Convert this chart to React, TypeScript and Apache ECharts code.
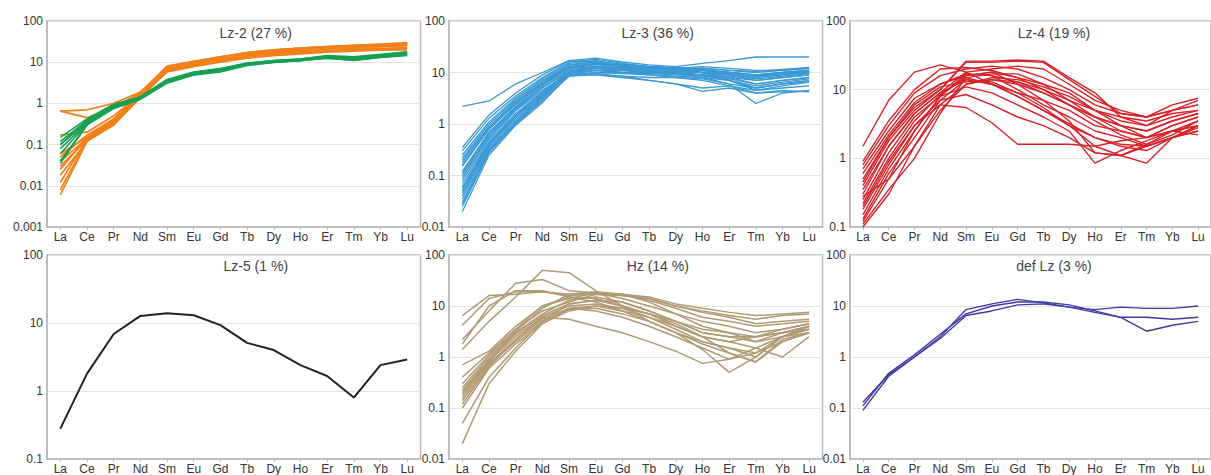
import React, { useEffect, useRef } from "react";
import * as echarts from "echarts";

// Chondrite-normalised REE patterns, one panel per cluster
const ELEMENTS = ["La", "Ce", "Pr", "Nd", "Sm", "Eu", "Gd", "Tb", "Dy", "Ho", "Er", "Tm", "Yb", "Lu"];

const PANEL_TITLES = ["Lz-2 (27 %)", "Lz-3 (36 %)", "Lz-4 (19 %)", "Lz-5 (1 %)", "Hz (14 %)", "def Lz (3 %)"];
const Y_MIN = [0.001, 0.01, 0.1, 0.1, 0.01, 0.01];
const Y_MAX = 100;

const LZ2_ORANGE = [
  [0.65, 0.7, 1.0, 1.9, 7.5, 9.5, 12, 15, 18, 20, 22, 23, 25, 27],
  [0.65, 0.45, 0.8, 1.8, 7, 9, 12, 15, 17, 19, 21, 22, 24, 26],
  [0.17, 0.2, 0.5, 1.7, 7.8, 10.5, 13.5, 17, 20, 22, 24, 25.5, 27, 29],
  [0.06, 0.15, 0.4, 1.6, 7, 9.5, 12.5, 16, 18, 20, 22, 23, 25, 27],
  [0.04, 0.14, 0.35, 1.5, 6.2, 8.3, 10.8, 13.5, 15.5, 17, 18.5, 19.5, 20.5, 21.5],
  [0.03, 0.13, 0.3, 1.4, 5.8, 7.8, 10, 12.5, 14.5, 16, 17.5, 18.5, 19.5, 20],
  [0.025, 0.15, 0.38, 1.7, 7.2, 9.8, 12.8, 16.5, 19, 21, 23, 24, 26, 29],
  [0.018, 0.12, 0.32, 1.5, 6.5, 8.6, 11, 14, 16, 17.5, 19, 20.5, 21.5, 23],
  [0.012, 0.14, 0.36, 1.6, 7, 9.2, 12, 15.5, 18, 20, 22, 23, 24.5, 26],
  [0.008, 0.13, 0.33, 1.5, 6.6, 8.8, 11.8, 15, 17.5, 19.5, 21.5, 22.5, 24, 25.5],
  [0.006, 0.12, 0.3, 1.4, 6.2, 8.3, 10.8, 13.8, 16, 17.5, 19, 20, 21, 22],
  [0.05, 0.17, 0.42, 1.8, 8, 10.5, 13.5, 17, 20, 22, 24, 25.5, 27.5, 29.5],
];

const LZ2_GREEN = [
  [0.15, 0.42, 0.95, 1.45, 3.8, 5.8, 7, 9.5, 11, 12, 14, 13, 15, 17],
  [0.12, 0.38, 0.9, 1.4, 3.5, 5.5, 6.5, 9, 10.5, 11.5, 13.5, 12, 14, 16],
  [0.1, 0.35, 0.85, 1.35, 3.3, 5.2, 6.2, 8.7, 10, 11, 13, 11.5, 13.5, 15],
  [0.08, 0.33, 0.8, 1.3, 3.2, 5, 6, 8.5, 10, 11, 12.5, 11, 13, 14.5],
  [0.06, 0.32, 0.78, 1.3, 3.4, 5.3, 6.4, 9, 10.5, 11.5, 13, 12.5, 14.5, 16],
  [0.04, 0.3, 0.75, 1.25, 3.1, 4.9, 5.8, 8.3, 9.8, 10.8, 12.5, 11.2, 13.2, 15],
  [0.035, 0.3, 0.8, 1.35, 3.6, 5.6, 6.8, 9.2, 10.8, 11.8, 14, 13, 15, 17.5],
  [0.1, 0.4, 0.92, 1.4, 3.7, 5.7, 6.9, 9.4, 11, 12, 14.5, 13.5, 15.5, 18],
];

const LZ3 = [
  [2.2, 2.8, 6, 10, 17, 16, 13, 12, 11, 10, 9, 8, 9, 10],
  [0.35, 1.5, 4, 9, 17, 19, 16, 14, 13, 15, 17, 20, 20, 20],
  [0.3, 1.3, 3.5, 8, 16, 18, 15, 13, 12, 13, 12, 11, 11, 12],
  [0.25, 1.1, 3.2, 7.5, 15, 17, 14, 13, 12, 11, 9, 7, 8, 9],
  [0.22, 1.0, 3, 7, 14, 16, 14, 12.5, 11, 10, 7, 5, 6, 7],
  [0.2, 0.9, 2.8, 6.5, 13, 15, 13, 12, 11, 10, 8, 6, 7, 8],
  [0.18, 0.85, 2.6, 6, 12, 14, 13, 12, 11, 11, 10, 9, 10, 11],
  [0.15, 0.8, 2.4, 6, 13, 15, 14, 13, 12, 12, 11, 10, 11, 12],
  [0.12, 0.7, 2.2, 5.5, 12, 13, 12, 11, 10, 9, 7, 4.5, 5.5, 6.5],
  [0.1, 0.6, 2, 5, 11, 12, 11, 10, 9.5, 8, 6, 2.5, 4, 4.5],
  [0.09, 0.55, 1.9, 5, 11, 13, 12, 11, 10, 9, 7, 5, 6, 7],
  [0.08, 0.5, 1.8, 4.5, 10, 11, 10, 9, 8, 7, 5.5, 4, 4.5, 4.2],
  [0.07, 0.45, 1.6, 4.2, 10, 12, 11.5, 11, 10.5, 10, 9, 8, 9, 10],
  [0.06, 0.42, 1.5, 4, 9, 9.5, 8.5, 7, 6, 5, 5.5, 4.5, 5, 5.5],
  [0.05, 0.4, 1.4, 3.8, 9, 9, 8, 7, 6, 4.3, 5, 4, 4.2, 4.3],
  [0.045, 0.38, 1.3, 3.6, 9.5, 11, 10, 9.5, 9, 8.5, 7.5, 6, 7, 8],
  [0.04, 0.35, 1.2, 3.5, 10, 12, 11, 10, 9.5, 9, 8, 7, 8, 9],
  [0.035, 0.32, 1.1, 3.2, 9, 10, 9.5, 9, 8.5, 8, 7, 5.5, 6.5, 7.5],
  [0.03, 0.3, 1.05, 3, 8.5, 9, 8.5, 8, 8, 7.5, 6, 5, 6, 6.5],
  [0.025, 0.28, 1.0, 2.8, 8.5, 10, 10, 10, 9.5, 9, 8.5, 7.5, 8.5, 9.5],
  [0.02, 0.25, 0.95, 2.6, 9, 11, 11, 10.5, 10, 10, 9.5, 8.5, 9.5, 10.5],
  [0.028, 0.3, 1.1, 3.3, 10, 12.5, 12, 11.5, 11, 11, 10, 9, 10, 11],
  [0.16, 0.8, 2.5, 6.5, 14, 16, 14.5, 13, 12.5, 12, 11, 10.5, 11.5, 12.5],
  [0.11, 0.65, 2.1, 5.5, 12.5, 14.5, 13.5, 12.5, 12, 11.5, 10, 8.5, 9.5, 10.5],
  [0.055, 0.42, 1.5, 4, 11, 13, 12.5, 12, 11.5, 11, 10, 9, 10, 11],
];

const LZ4 = [
  [1.5, 7, 18, 23, 18, 12, 8, 5, 3.2, 2, 1.6, 1.5, 2, 2.5],
  [0.9, 3.5, 10, 20, 21, 19, 15, 10, 7, 5, 4, 3.5, 4.5, 5],
  [0.8, 3, 9, 16, 20, 22, 20, 15, 10, 6, 4.5, 4, 5, 6],
  [0.7, 2.5, 7.5, 12, 16, 18, 15, 12, 9, 5, 3, 2.5, 3.5, 4.5],
  [0.5, 2, 6, 11, 13, 14, 12, 9, 6, 4, 3, 2, 2.5, 3],
  [0.45, 2, 5.5, 10, 26, 26, 27, 26, 15, 9, 4, 3, 5, 7],
  [0.4, 1.8, 5, 10, 25, 25, 26, 25, 14, 8, 4.5, 4, 6, 7.5],
  [0.35, 1.5, 4.5, 9, 18, 20, 22, 20, 12, 7, 5, 4, 5, 6],
  [0.3, 1.5, 4.5, 9, 14, 12, 9, 7, 5, 3, 2.5, 2, 3, 4],
  [0.25, 1.2, 4, 8, 11, 9, 6, 4, 2.5, 0.85, 1.3, 1.8, 2.5, 3],
  [0.22, 1, 3.5, 8.5, 15, 12, 8, 5, 3, 2, 1.5, 1.3, 2, 2.8],
  [0.2, 0.9, 3, 7, 8.5, 6, 4, 3, 2, 1.2, 1.1, 1.6, 2.5, 3.5],
  [0.18, 0.8, 3, 6, 5.5, 3.3, 1.6, 1.6, 1.6, 1.5, 1.8, 2, 2.5, 2.2],
  [0.15, 0.7, 2.5, 8, 17, 16, 10, 6, 4, 2.5, 2, 1.5, 2, 3],
  [0.13, 0.6, 2, 7, 14, 13, 9, 5.5, 3, 1.5, 1.1, 1.5, 2, 2.5],
  [0.12, 0.5, 2.5, 8, 16, 18, 12, 7, 3.5, 1.2, 1.1, 0.85, 2, 3],
  [0.11, 0.35, 1, 4.5, 15, 17, 17, 12, 7, 4, 2.5, 2, 3, 4],
  [0.1, 0.3, 1.5, 6, 12, 15, 14, 11, 8, 5, 3.5, 3, 4, 5],
  [0.6, 2.2, 6.5, 12, 17, 16, 13, 10, 6, 3.5, 2.2, 1.6, 2.2, 3.5],
  [0.28, 0.5, 1.5, 5, 12, 14, 13, 9, 6, 4, 3, 2.5, 3.5, 4.5],
];

const LZ5 = [[0.28, 1.8, 6.9, 12.7, 13.9, 13, 9.3, 5.1, 4.0, 2.4, 1.66, 0.8, 2.4, 2.9]];

const HZ = [
  [6.5, 16, 17, 19, 17, 18, 17, 15, 11, 9, 7.5, 6.5, 7, 7.5],
  [4.2, 14, 19, 19, 16, 17, 16, 14, 10, 8, 6.5, 5.5, 6.5, 7],
  [2.2, 8, 28, 33, 20, 18, 14, 10, 7, 5, 4, 3, 3.5, 4.5],
  [1.4, 5, 15, 50, 45, 20, 10, 5, 3, 2, 1.5, 1, 2.5, 4],
  [1.8, 10, 20, 20, 15, 14, 10, 7, 5, 3.5, 3, 2, 2.5, 3],
  [0.7, 1.3, 4, 10, 14, 18, 17, 13, 9, 6, 5, 4, 4.5, 5],
  [0.4, 1.2, 3.5, 8, 12, 17, 16, 14, 10, 7.5, 6, 4.5, 5, 5.5],
  [0.25, 1.0, 3, 7, 13, 15, 12, 8, 5, 3, 2.5, 2.5, 3, 4],
  [0.22, 0.9, 2.8, 6.5, 11, 13, 10, 7, 4, 2.5, 2, 1.5, 2.5, 3.5],
  [0.2, 0.85, 2.5, 6, 10, 11, 9, 6, 3.5, 2, 1.5, 1.2, 2, 3],
  [0.18, 0.8, 3.5, 10, 15, 12, 8, 5, 3, 1.8, 1.2, 0.8, 2, 3],
  [0.16, 0.75, 2.2, 5.5, 9, 8, 6, 4, 2.5, 1.5, 0.9, 1.5, 1, 2.5],
  [0.14, 0.7, 2, 5, 8.5, 9, 7, 5, 3, 1.4, 0.5, 1, 2.5, 4],
  [0.12, 0.65, 2.2, 6, 5.5, 4, 3, 2, 1.3, 0.75, 0.9, 1.2, 2.5, 3.5],
  [0.05, 0.4, 1.5, 5, 11, 13, 12, 8, 5, 3, 2.5, 2, 3, 4],
  [0.02, 0.3, 1.3, 4.5, 9, 10, 9, 7, 4.5, 2.5, 1.2, 0.8, 2.2, 3],
  [0.1, 0.6, 1.8, 4.5, 8, 10, 8, 6, 4, 2.5, 2, 2.5, 3, 3.5],
  [0.3, 1.1, 3.2, 9, 17, 19, 17, 12, 7, 4, 3, 2.5, 3.5, 4.5],
];

const DEF_LZ = [
  [0.13, 0.45, 1.0, 2.3, 6.5, 8, 10.5, 11, 9.5, 8.5, 9.5, 9, 9, 10],
  [0.09, 0.42, 1.0, 2.5, 8.5, 11, 13.5, 11.5, 9.5, 7.5, 6, 3.2, 4.2, 5],
  [0.11, 0.48, 1.1, 2.8, 7, 10, 12, 12, 10.5, 8, 6, 6, 5.5, 6],
];

// panel index -> groups of profiles with their colour and stroke width
const PANEL_GROUPS: { panel: number; rows: number[][]; color: string; width: number }[] = [
  { panel: 0, rows: LZ2_ORANGE, color: "#f0801a", width: 1.7 },
  { panel: 0, rows: LZ2_GREEN, color: "#17a052", width: 1.6 },
  { panel: 1, rows: LZ3, color: "#3a98d4", width: 1.3 },
  { panel: 2, rows: LZ4, color: "#d52229", width: 1.4 },
  { panel: 3, rows: LZ5, color: "#222222", width: 2 },
  { panel: 4, rows: HZ, color: "#b09a74", width: 1.5 },
  { panel: 5, rows: DEF_LZ, color: "#3f3aa2", width: 1.4 },
];

const COL_LEFT = [47, 449, 850];
const COL_W = [373.5, 373.5, 364];
const ROW_TOP = [21, 255];
const PLOT_H = 206;
const TITLE_Y = [33, 266];

const FONT = "'Liberation Sans', Arial, sans-serif";
const FRAME = "#b8b8b8";

function fmtLog(v: number): string {
  return String(parseFloat(v.toPrecision(2)));
}

export default function App() {
  const ref = useRef<HTMLDivElement>(null);

  useEffect(() => {
    if (!ref.current) return;
    const chart = echarts.init(ref.current, undefined, { renderer: "svg" });

    const grids: any[] = [];
    const xAxes: any[] = [];
    const yAxes: any[] = [];
    const graphics: any[] = [];

    for (let i = 0; i < 6; i++) {
      const col = i % 3;
      const row = Math.floor(i / 3);
      grids.push({
        left: COL_LEFT[col],
        top: ROW_TOP[row],
        width: COL_W[col],
        height: PLOT_H,
        show: true,
        borderColor: FRAME,
        borderWidth: 1.5,
        backgroundColor: "#ffffff",
      });
      xAxes.push({
        type: "category",
        gridIndex: i,
        data: ELEMENTS,
        boundaryGap: true,
        axisLine: { show: true, lineStyle: { color: FRAME, width: 1.5 } },
        axisTick: { show: true, alignWithLabel: true, length: 3, lineStyle: { color: FRAME } },
        axisLabel: { interval: 0, margin: 4, fontSize: 12, color: "#333", fontFamily: FONT },
        splitLine: { show: false },
      });
      yAxes.push({
        type: "log",
        logBase: 10,
        gridIndex: i,
        min: Y_MIN[i],
        max: Y_MAX,
        axisLine: { show: true, lineStyle: { color: FRAME, width: 1.5 } },
        axisTick: { show: false },
        axisLabel: { margin: 4, fontSize: 12, color: "#333", fontFamily: FONT, formatter: fmtLog },
        splitLine: { show: true, lineStyle: { color: "#e4e4e4", width: 1 } },
        minorTick: { show: false },
      });
      graphics.push({
        type: "text",
        x: COL_LEFT[col] + COL_W[col] / 2 + 22,
        y: TITLE_Y[row],
        style: {
          text: PANEL_TITLES[i],
          fill: "#444",
          fontSize: 14,
          fontFamily: FONT,
          textAlign: "center",
          textVerticalAlign: "middle",
        },
      });
    }

    const series: any[] = [];
    PANEL_GROUPS.forEach((g) => {
      g.rows.forEach((vals) => {
        series.push({
          type: "line",
          xAxisIndex: g.panel,
          yAxisIndex: g.panel,
          data: vals,
          symbol: "none",
          silent: true,
          lineStyle: { color: g.color, width: g.width },
        });
      });
    });

    chart.setOption({
      animation: false,
      backgroundColor: "#ffffff",
      grid: grids,
      xAxis: xAxes,
      yAxis: yAxes,
      series,
      graphic: graphics,
    });

    return () => chart.dispose();
  }, []);

  return (
    <div
      ref={ref}
      style={{ position: "absolute", left: 0, top: 0, width: 1211, height: 475, background: "#ffffff" }}
    />
  );
}
